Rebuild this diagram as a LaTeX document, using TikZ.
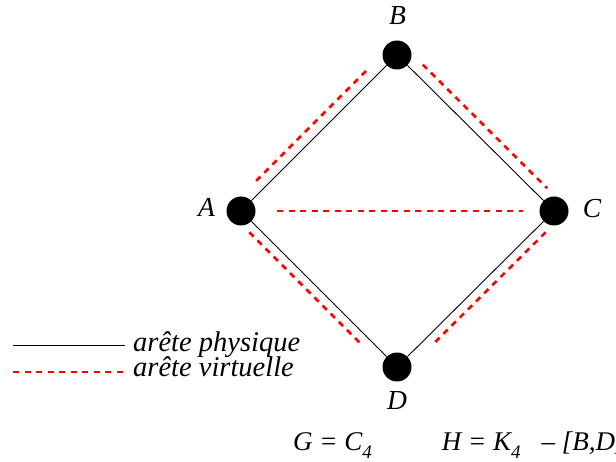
\documentclass[tikz,border=0pt]{standalone}
\usepackage{fontspec}
\setmainfont{Liberation Serif}
\usetikzlibrary{calc}
\definecolor{vRed}{RGB}{255,0,0}

\newcommand{\subfour}{\raisebox{-8pt}{\fontsize{19}{19}\selectfont 4}}

\begin{document}
\begin{tikzpicture}[x=1pt,y=-1pt,
  every node/.style={font=\fontsize{27.5}{32}\selectfont\itshape},
  vertex/.style={circle,fill=black,minimum size=29pt,inner sep=0pt},
  phys/.style={black,line width=0.9pt},
  virt/.style={vRed,line width=2.6pt,dash pattern=on 6pt off 5.5pt}
]
\useasboundingbox (0,0) rectangle (616,462);

% sommets
\node[vertex] (A) at (241,211) {};
\node[vertex] (B) at (397,55)  {};
\node[vertex] (C) at (554,211) {};
\node[vertex] (D) at (397,367) {};
\node (lA) at (206.5,207.5) {A};
\node (lB) at (397.5,16)    {B};
\node (lC) at (592,209)     {C};
\node (lD) at (397,400.5)   {D};

% aretes physiques
\draw[phys] (A) -- (B) -- (C) -- (D) -- (A);

% aretes virtuelles
\draw[virt] ($(A)!32pt!(B)+(-7.5,-7.5)$) -- ($(B)!29pt!(A)+(-7.5,-7.5)$);
\draw[virt] ($(B)!25pt!(C)+(8,-8)$)     -- ($(C)!21pt!(B)+(8,-8)$);
\draw[virt] ($(C)!21pt!(D)+(6.5,6.5)$)  -- ($(D)!40pt!(C)+(6.5,6.5)$);
\draw[virt] ($(A)!21pt!(D)+(-6.5,6.5)$) -- ($(D)!39pt!(A)+(-6.5,6.5)$);
\draw[virt] ($(A)!36pt!(C)$) -- ($(C)!31pt!(A)$);

% legende
\coordinate (p1) at (13,345);
\coordinate (p2) at (125,345);
\coordinate (v1) at (13,372);
\coordinate (v2) at (125,372);
\draw[phys] (p1) -- (p2);
\draw[virt] (v1) -- (v2);
\node[anchor=base west,inner sep=0pt,font=\fontsize{28.5}{32}\selectfont\itshape]
  (tp) at (133,352) {arête physique};
\node[anchor=base west,inner sep=0pt,font=\fontsize{28.5}{32}\selectfont\itshape]
  (tv) at (133,377) {arête virtuelle};

% formules
\begin{scope}
\clip (0,0) rectangle (616,462);
\node[anchor=base west,inner sep=0pt,font=\fontsize{27}{30}\selectfont\itshape] (GH)
  at (293,450) {G = C\subfour\hspace{70pt}H = K\subfour\hspace{21pt}– [B,D]};
\end{scope}
\end{tikzpicture}
\end{document}
